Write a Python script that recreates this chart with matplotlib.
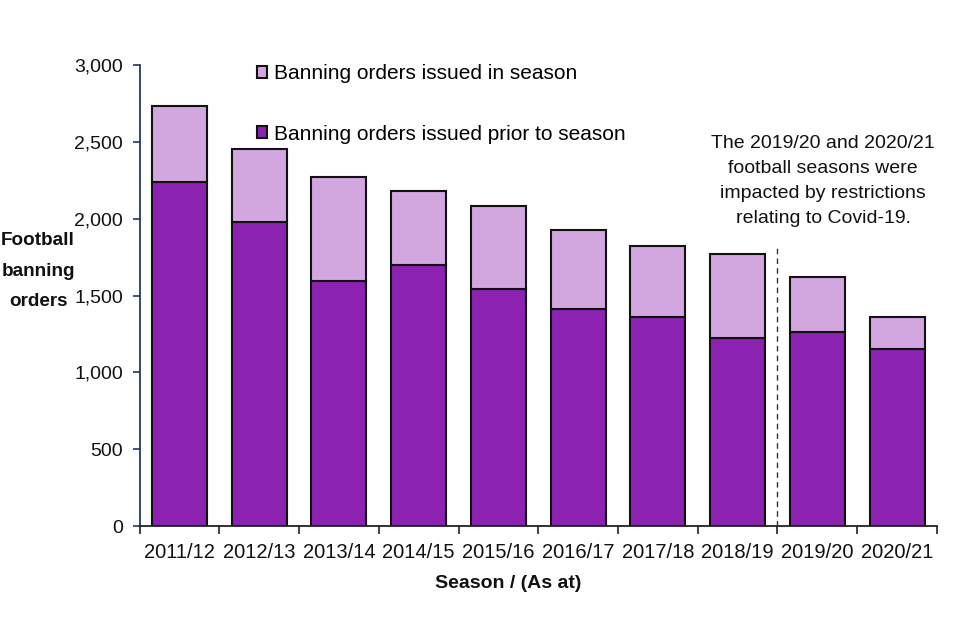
import matplotlib
matplotlib.use("Agg")
import matplotlib.pyplot as plt
from matplotlib.ticker import FuncFormatter, FixedLocator
import numpy as np

seasons = ["2011/12", "2012/13", "2013/14", "2014/15", "2015/16",
           "2016/17", "2017/18", "2018/19", "2019/20", "2020/21"]
prior_to_season = [2239, 1979, 1597, 1699, 1543, 1413, 1363, 1225, 1265, 1153]
in_season = [494, 475, 674, 482, 540, 514, 460, 546, 358, 208]
yticks = [0, 500, 1000, 1500, 2000, 2500, 3000]

FONT = ["Liberation Sans", "DejaVu Sans"]

dark = "#8C22B2"
light = "#D2A6DE"

fig = plt.figure(figsize=(9.6, 6.4), dpi=100)
ax = fig.add_axes([0.1454, 0.178, 0.976 - 0.1454, 0.898 - 0.178])

x = np.arange(len(seasons))
w = 0.69
b1 = ax.bar(x, prior_to_season, width=w, color=dark, edgecolor="#111111",
            linewidth=1.5, label="Banning orders issued prior to season", zorder=2)
b2 = ax.bar(x, in_season, width=w, bottom=prior_to_season, color=light,
            edgecolor="#111111", linewidth=1.5,
            label="Banning orders issued in season", zorder=2)

ax.set_xlim(-0.5, len(seasons) - 0.5)
ax.set_ylim(0, 3000)
ax.set_yticks(yticks)
ax.yaxis.set_major_formatter(FuncFormatter(lambda v, p: f"{int(v):,}"))
ax.set_xticks(x)
ax.set_xticklabels(seasons)
ax.xaxis.set_minor_locator(FixedLocator(np.arange(-0.5, len(seasons), 1.0)))
ax.tick_params(axis="x", which="major", length=0, pad=12)
ax.tick_params(axis="x", which="minor", length=6, width=1.2, direction="out",
               color="#222222")
ax.tick_params(axis="y", which="major", length=5, width=1.2, direction="out",
               color="#1F3864", pad=7)
for lab in ax.get_xticklabels():
    lab.set_fontfamily(FONT)
    lab.set_fontsize(14.5)
    lab.set_color("#111111")
for lab in ax.get_yticklabels():
    lab.set_fontfamily(FONT)
    lab.set_fontsize(14)
    lab.set_color("#111111")

for s in ["top", "right"]:
    ax.spines[s].set_visible(False)
ax.spines["left"].set_color("#1F3864")
ax.spines["left"].set_linewidth(1.3)
ax.spines["bottom"].set_color("#222222")
ax.spines["bottom"].set_linewidth(1.3)

ax.axvline(7.5, ymin=0, ymax=0.608, ls=(0, (4, 3)), color="#333333",
           lw=1.0, zorder=3)

leg = fig.legend(handles=[b2, b1], loc="upper left",
                 bbox_to_anchor=(257 / 960, 1 - 64 / 640),
                 frameon=False, prop={"family": FONT, "size": 15},
                 handlelength=0.5, handleheight=0.5, handletextpad=0.3,
                 labelspacing=2.0, borderpad=0, borderaxespad=0)

fig.text(38 / 960, 1 - 271 / 640, "Football\nbanning\norders",
         ha="center", va="center", multialignment="center",
         fontfamily=FONT, fontweight="bold", fontsize=13.6, linespacing=2.05,
         color="#111111")
fig.text(508 / 960, 1 - 583 / 640, "Season / (As at)", ha="center",
         va="center", fontfamily=FONT, fontweight="bold", fontsize=14,
         color="#111111")
fig.text(823 / 960, 1 - 181 / 640,
         "The 2019/20 and 2020/21\nfootball seasons were\nimpacted by restrictions\nrelating to Covid-19.",
         ha="center", va="center", multialignment="center",
         fontfamily=FONT, fontsize=14, linespacing=1.6, color="#111111")

fig.savefig("out.png", dpi=100)
